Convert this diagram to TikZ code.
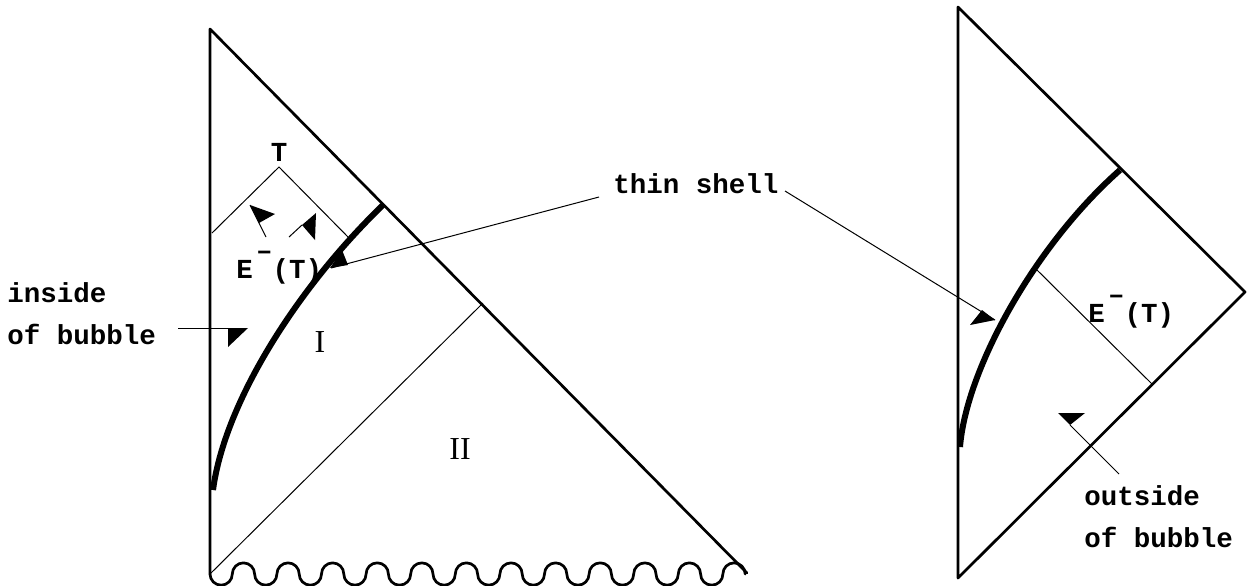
\documentclass[tikz,border=0pt]{standalone}
\usepackage{fontspec}
\setmainfont{Liberation Serif}
\setmonofont{Liberation Mono}
\newcommand{\EmT}{E\kern0.12em\raisebox{0.68em}{–}(T)}
\begin{document}
\begin{tikzpicture}[x=0.5pt,y=-0.5pt,
  frame/.style={line width=1.35pt, line cap=round, line join=round},
  thinline/.style={line width=0.5pt},
  shell/.style={line width=3pt},
  lbl/.style={font=\ttfamily\bfseries\fontsize{13.75}{16}\selectfont, inner sep=0pt, anchor=base west},
  region/.style={font=\fontsize{16}{18}\selectfont, inner sep=0pt},
  tip/.style={fill=black, draw=none}]
\useasboundingbox (0,0) rectangle (1253,585);

% ---------- left diagram ----------
\coordinate (LT) at (210,29);
\coordinate (LB) at (210,574);
\coordinate (LR) at (747,573);
\coordinate (LM) at (483,303);
\draw[frame] (LB) -- (LT) -- (LR);
\draw[frame] (LB) \foreach \i in {1,...,12} {
  arc[start angle=180,end angle=360,radius=5.575pt]
  arc[start angle=180,end angle=0,radius=5.575pt] };
\draw[thinline] (LB) -- (LM);
\coordinate (SLb) at (213,490);
\coordinate (SLt) at (383,205);
\draw[shell] (SLb) .. controls (225,400) and (300,285) .. (SLt);

% light cone of T
\coordinate (CL) at (212,233);
\coordinate (CA) at (279,167);
\coordinate (CR) at (349,238);
\draw[thinline] (CL) -- (CA) -- (CR);
\node[lbl, anchor=base] (Tlbl) at (279,161) {T};
\draw[thinline] (266,237) -- (250,205);
\fill[tip] (250,205) -- (275,214) -- (259,223) -- cycle;
\draw[thinline] (289,237) -- (302,225);
\fill[tip] (302,225) -- (316,213) -- (315,240) -- cycle;
\node[lbl] (ETL) at (236,278) {\EmT};

% inside of bubble
\node[lbl] (ins) at (7,302) {inside};
\node[lbl] (insb) at (7,344) {of bubble};
\coordinate (insA) at (178,328);
\coordinate (insB) at (228,328);
\draw[thinline] (insA) -- (insB);
\fill[tip] (228,328) -- (248,328) -- (228,347) -- cycle;

\node[region] (regI) at (320,342) {I};
\node[region] (regII) at (460,449) {II};

% thin shell label
\node[lbl] (ts) at (613,193) {thin shell};
\coordinate (tsL) at (599,197);
\coordinate (tsR) at (785,191);
\coordinate (shL) at (331,268);
\coordinate (shR) at (995,320);
\draw[thinline] (tsL) -- (shL);
\fill[tip] (330,268) -- (342,250) -- (348,265) -- cycle;
\draw[thinline] (tsR) -- (shR);
\fill[tip] (995,320) -- (970,325) -- (982,310) -- cycle;

% ---------- right diagram ----------
\coordinate (RT) at (958,7);
\coordinate (RR) at (1245,292);
\coordinate (RB) at (958,578);
\draw[frame] (RB) -- (RT) -- (RR) -- cycle;
\coordinate (SRb) at (960,447);
\coordinate (SRt) at (1120,170);
\draw[shell] (SRb) .. controls (966,370) and (1034,246) .. (SRt);
\coordinate (EA) at (1035,268);
\coordinate (EB) at (1152,384);
\draw[thinline] (EA) -- (EB);
\node[lbl] (ETR) at (1088,322) {\EmT};

\node[lbl] (outs) at (1084,505) {outside};
\node[lbl] (outsb) at (1084,547) {of bubble};
\coordinate (oA) at (1070,425);
\coordinate (oB) at (1119,474);
\draw[thinline] (oA) -- (oB);
\fill[tip] (1058,413) -- (1085,413) -- (1070,425) -- cycle;
\end{tikzpicture}
\end{document}
